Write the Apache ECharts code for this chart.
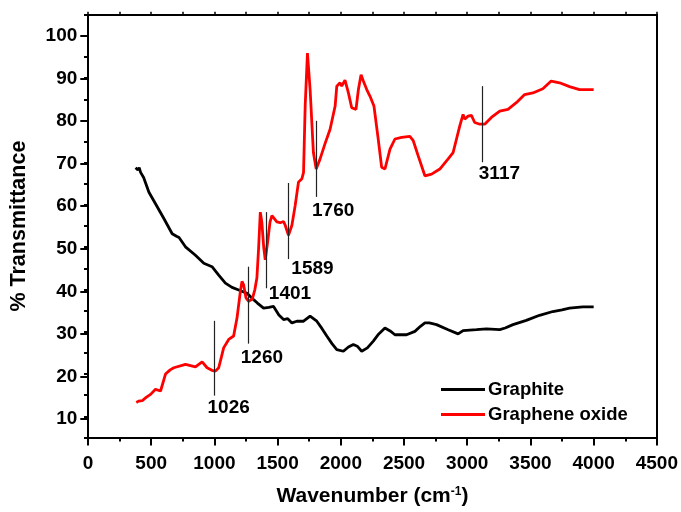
<!DOCTYPE html>
<html>
<head>
<meta charset="utf-8">
<script src="https://cdn.jsdelivr.net/npm/echarts@6/dist/echarts.min.js"></script>
<style>
html,body{margin:0;padding:0;background:#fff;}
#chart{width:681px;height:512px;}
</style>
</head>
<body>
<div id="chart"></div>
<script>
// ---- data ----
const graphiteX = [376,395,405,416,440,482,534,600,666,700,720,771,850,916,981,1034,1087,1139,1192,1258,1310,1340,1389,1430,1468,1510,1547,1580,1613,1652,1705,1757,1810,1850,1889,1930,1968,2020,2060,2099,2130,2165,2210,2257,2300,2349,2390,2428,2520,2586,2630,2665,2700,2757,2849,2928,2967,3020,3073,3152,3257,3300,3362,3467,3572,3677,3750,3809,3914,4000];
const graphiteY = [68.8,68.3,68.8,67.7,66.5,63.0,60.3,56.8,53.2,52.6,52.3,50.1,48.1,46.2,45.4,43.4,41.5,40.5,39.9,39.1,37.6,36.8,35.6,35.8,36.0,34.0,32.9,33.1,32.1,32.5,32.5,33.7,32.5,30.8,29.0,27.2,25.8,25.4,26.4,27.0,26.6,25.4,26.2,27.8,29.5,30.9,30.2,29.3,29.3,30.1,31.3,32.1,32.1,31.7,30.5,29.5,30.3,30.4,30.5,30.7,30.5,30.9,31.7,32.7,33.9,34.8,35.2,35.6,35.9,35.9];

const goX = [382,400,429,460,495,534,574,613,650,679,771,850,903,942,980,1008,1034,1055,1073,1113,1152,1179,1205,1218,1231,1250,1271,1300,1320,1336,1350,1363,1375,1390,1402,1420,1440,1455,1494,1520,1547,1560,1586,1613,1639,1665,1692,1705,1718,1736,1744,1757,1783,1805,1836,1875,1915,1955,1968,1994,2007,2033,2060,2086,2120,2139,2160,2178,2205,2231,2262,2296,2323,2349,2389,2428,2481,2546,2573,2612,2665,2718,2783,2849,2888,2915,2941,2967,2980,3007,3033,3059,3099,3138,3191,3257,3322,3388,3454,3519,3598,3664,3730,3809,3888,4000];
const goY = [13.3,13.6,13.7,14.5,15.2,16.4,16.0,20.0,21.0,21.5,22.3,21.7,22.9,21.5,20.9,20.7,21.5,24.0,26.2,28.2,29.0,33.3,39.5,41.9,41.1,38.0,37.2,37.8,40.0,42.7,50.0,58.3,56.0,50.0,47.0,51.0,56.0,57.5,56.0,55.8,56.1,55.2,52.8,55.2,59.9,65.4,66.2,67.7,83.4,95.9,96.3,87.3,72.4,68.5,70.9,74.5,77.9,83.4,88.1,88.9,88.1,89.5,86.5,83.0,82.6,87.3,90.8,89.3,87.3,85.7,83.4,75.5,68.9,68.5,73.2,75.6,76.0,76.2,75.2,71.6,66.9,67.3,68.5,70.9,72.4,75.6,78.7,81.4,80.3,81.0,81.2,79.5,79.1,79.1,80.7,82.2,82.6,84.2,86.1,86.5,87.5,89.3,88.9,88.0,87.3,87.3];

const annotLabels = ['1026','1260','1401','1589','1760','3117'];
const annotX = [1002,1265,1408,1586,1805,3120];
const annotTop = [32.6,45.4,58.3,65.2,79.9,88.1];
const annotBottom = [14.9,27.2,40.3,47.2,61.9,70.1];

const xTicks = {min:0, max:4500, step:500};
const yTicks = {min:10, max:100, step:10};
const yRange = {min:5, max:105};

// ---- styles ----
const labelOffsets = [[14,12],[14,14],[24,6],[24,10],[17,14],[17,12]];
const FONT = 'Arial, "Liberation Sans", sans-serif';
const axisCol = '#000';

const chart = echarts.init(document.getElementById('chart'), null, {renderer:'canvas'});
const gridMain = {left:87.3, top:14.7, width:570.2, height:425.6};
const gridLab = {left:87.3, top:36, width:570.2, height:383};

const option = {
  animation:false,
  backgroundColor:'#fff',
  grid:[
    Object.assign({containLabel:false}, gridMain),
    Object.assign({containLabel:false}, gridLab)
  ],
  legend:{
    orient:'vertical', left:436, top:375,
    icon:'rect', itemWidth:44, itemHeight:3, itemGap:6,
    data:['Graphite','Graphene oxide'],
    textStyle:{fontFamily:FONT, fontWeight:'bold', fontSize:18.5, lineHeight:18, color:'#000', padding:[0,0,0,-2]}
  },
  xAxis:[
    {type:'value', gridIndex:0, position:'bottom', min:xTicks.min, max:xTicks.max, interval:xTicks.step,
     axisLine:{show:true, onZero:false, lineStyle:{color:axisCol, width:2}},
     axisTick:{show:true, inside:false, length:8, lineStyle:{color:axisCol, width:2}},
     minorTick:{show:true, splitNumber:2, length:4, lineStyle:{color:axisCol, width:2}},
     splitLine:{show:false},
     axisLabel:{show:true, margin:17, formatter:v=>String(v), fontFamily:FONT, fontWeight:'bold', fontSize:19, color:'#000'},
     name:'Wavenumber (cm{sup|-1})', nameLocation:'middle', nameGap:48,
     nameTextStyle:{fontFamily:FONT, fontWeight:'bold', fontSize:21, color:'#000',
       rich:{sup:{fontFamily:FONT, fontWeight:'bold', fontSize:12, color:'#000', verticalAlign:'top', padding:[0,0,10,0]}}}
    },
    {type:'value', gridIndex:0, position:'top', min:xTicks.min, max:xTicks.max, interval:xTicks.step/2,
     axisLine:{show:true, onZero:false, lineStyle:{color:axisCol, width:2}},
     axisTick:{show:true, inside:false, length:3, lineStyle:{color:axisCol, width:1.5}},
     axisLabel:{show:false}, splitLine:{show:false}},
    {type:'value', gridIndex:1, min:xTicks.min, max:xTicks.max, show:false}
  ],
  yAxis:[
    {type:'value', gridIndex:0, position:'left', min:yRange.min, max:yRange.max, interval:5,
     axisLine:{show:true, onZero:false, lineStyle:{color:axisCol, width:2}},
     axisTick:{show:true, inside:false, length:4, lineStyle:{color:axisCol, width:2}},
     axisLabel:{show:false}, splitLine:{show:false},
     name:'% Transmittance', nameLocation:'middle', nameGap:58, nameRotate:90,
     nameTextStyle:{fontFamily:FONT, fontWeight:'bold', fontSize:21.5, color:'#000'}
    },
    {type:'value', gridIndex:0, position:'right', min:yRange.min, max:yRange.max,
     axisLine:{show:true, onZero:false, lineStyle:{color:axisCol, width:2}},
     axisTick:{show:false}, axisLabel:{show:false}, splitLine:{show:false}},
    {type:'value', gridIndex:1, position:'left', min:yTicks.min, max:yTicks.max, interval:yTicks.step,
     axisLine:{show:false},
     axisTick:{show:true, inside:false, length:7, lineStyle:{color:axisCol, width:2}},
     axisLabel:{show:true, margin:10, fontFamily:FONT, fontWeight:'bold', fontSize:19, color:'#000'},
     splitLine:{show:false}}
  ],
  series:[
    {name:'Graphite', type:'line', xAxisIndex:0, yAxisIndex:0, symbol:'none', smooth:false,
     lineStyle:{color:'#000', width:2.8}, itemStyle:{color:'#000'},
     data: graphiteX.map((x,i)=>[x, graphiteY[i]])},
    {name:'Graphene oxide', type:'line', xAxisIndex:0, yAxisIndex:0, symbol:'none', smooth:false,
     lineStyle:{color:'#ff0000', width:2.8}, itemStyle:{color:'#ff0000'},
     data: goX.map((x,i)=>[x, goY[i]]),
     markLine:{silent:true, symbol:['none','none'], label:{show:false},
       lineStyle:{color:'#222', width:1.2, type:'solid'},
       emphasis:{disabled:true},
       data: annotX.map((x,i)=>[{coord:[x, annotTop[i]]},{coord:[x, annotBottom[i]]}])}
    },
    {name:'annot', type:'scatter', xAxisIndex:0, yAxisIndex:0, symbolSize:1, silent:true,
     itemStyle:{color:'rgba(0,0,0,0)'},
     label:{show:true, position:'inside', fontFamily:FONT, fontWeight:'bold', fontSize:19, color:'#000',
       textBorderWidth:0, opacity:1, align:'center', verticalAlign:'middle'},
     data: annotX.map((x,i)=>({value:[x, annotBottom[i]], label:{formatter:annotLabels[i], offset:labelOffsets[i], color:'#000'}}))
    }
  ]
};
chart.setOption(option);
</script>
</body>
</html>
